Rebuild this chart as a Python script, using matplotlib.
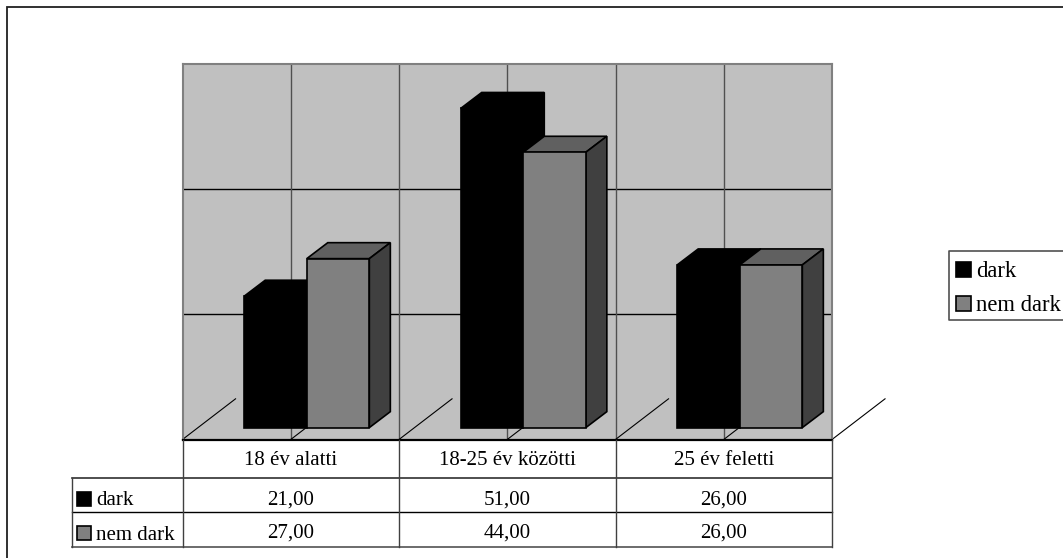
import matplotlib
matplotlib.use("Agg")
import matplotlib.pyplot as plt
from matplotlib.patches import Polygon, Rectangle

W, H = 1063, 558

categories = ["18 év alatti", "18-25 év közötti", "25 év feletti"]
series_names = ["dark", "nem dark"]
dark = [21, 51, 26]
nem_dark = [27, 44, 26]
table_rows = [
    ["21,00", "51,00", "26,00"],
    ["27,00", "44,00", "26,00"],
]
grid_values = [20, 40]
value_max = 60

FRONT = ["#000000", "#808080"]
TOP = ["#000000", "#606060"]
SIDE = ["#000000", "#404040"]
WALL = "#C0C0C0"
SERIF = "Liberation Serif"

# plot wall position, in pixels
X0, X1, Y_TOP, Y_BASE = 182.5, 832, 64, 439.5
BAR_W = 0.289      # category units
BAR_OFF = 0.285
DX = 0.097         # 3d depth of a bar
DY = 2.55
BASE = 1.9         # bars stand in front of the wall
FLOOR_DX = 0.245
FLOOR_DY = 6.5

fig = plt.figure(figsize=(W / 100, H / 100), dpi=100, facecolor="white")

# overlay in pixel coords, for frame, table and legend
px = fig.add_axes([0, 0, 1, 1], zorder=3)
px.set_xlim(0, W)
px.set_ylim(H, 0)
px.axis("off")
px.patch.set_alpha(0)

ax = fig.add_axes([X0 / W, 1 - Y_BASE / H, (X1 - X0) / W, (Y_BASE - Y_TOP) / H], zorder=2)
ax.set_xlim(0, len(categories))
ax.set_ylim(0, value_max)
ax.set_facecolor(WALL)
ax.set_xticks([])
ax.set_yticks([])
for s in ax.spines.values():
    s.set_color("#808080")
    s.set_linewidth(1.5)
ax.spines["bottom"].set_visible(False)

# wall grid
for v in grid_values:
    ax.axhline(v, color="#000000", lw=1, zorder=1)
for i in range(1, 2 * len(categories)):
    ax.axvline(i / 2, color="#505050", lw=1, zorder=1)

# floor diagonals
for i in range(2 * len(categories) + 1):
    ax.plot([i / 2, i / 2 + FLOOR_DX], [0, FLOOR_DY], color="#000000", lw=0.8,
            zorder=1.5, clip_on=False)

# bars, back series first, right side faces and tops from the values
for s, vals in enumerate([dark, nem_dark]):
    z = 3 + s
    for i, v in enumerate(vals):
        left = i + BAR_OFF + s * BAR_W
        right = left + BAR_W
        top = BASE + v
        ax.bar(left, v, BAR_W, bottom=BASE, align="edge", color=FRONT[s],
               edgecolor="#000000", lw=1.2, zorder=z + 0.1)
        ax.add_patch(Polygon([(left, top), (left + DX, top + DY), (right + DX, top + DY), (right, top)],
                             facecolor=TOP[s], edgecolor="#000000", lw=1.2, zorder=z))
        ax.add_patch(Polygon([(right, BASE), (right + DX, BASE + DY), (right + DX, top + DY), (right, top)],
                             facecolor=SIDE[s], edgecolor="#000000", lw=1.2, zorder=z))

# outer frame, runs off the picture right and below
px.plot([7, 7, W], [H, 7, 7], color="#202020", lw=1.3, solid_joinstyle="miter")

# data table
col_x = [X0 + i * (X1 - X0) / len(categories) for i in range(len(categories) + 1)]
row_y = [439.5, 477.5, 512, 546.5]
text_base = [504.5, 538]
label_base = [505, 540.5]
swatch_y = [498.5, 533]
TABLE_L = 71.5
px.plot([X0, X1], [row_y[0], row_y[0]], color="#000000", lw=1.6)
px.plot([TABLE_L, X1], [row_y[1], row_y[1]], color="#303030", lw=1.2)
px.plot([TABLE_L, X1], [row_y[2], row_y[2]], color="#000000", lw=1)
px.plot([TABLE_L, X1], [row_y[3], row_y[3]], color="#606060", lw=1.3)
px.plot([TABLE_L, TABLE_L], [row_y[1], row_y[3]], color="#404040", lw=1)
for x in col_x:
    px.plot([x, x], [row_y[0], row_y[3]], color="#404040", lw=1)

for i, name in enumerate(categories):
    px.text((col_x[i] + col_x[i + 1]) / 2, 465, name, family=SERIF, fontsize=15,
            ha="center", va="baseline", color="black")
for r, row in enumerate(table_rows):
    for i, val in enumerate(row):
        px.text((col_x[i] + col_x[i + 1]) / 2, text_base[r], val, family=SERIF, fontsize=15,
                ha="center", va="baseline", color="black")
    px.add_patch(Rectangle((77, swatch_y[r] - 7), 13.5, 14, facecolor=FRONT[r], edgecolor="#000000", lw=1.2))
    px.text(96, label_base[r], series_names[r], family=SERIF, fontsize=15, ha="left", va="baseline", color="black")

# legend, cut by the right edge
px.plot([W, 949, 949, W], [250.5, 250.5, 320, 320], color="#505050", lw=1.2)
legend_swatch_y = [269, 303.5]
legend_base = [277, 311]
for r, name in enumerate(series_names):
    px.add_patch(Rectangle((955.5, legend_swatch_y[r] - 7.5), 15, 15, facecolor=FRONT[r], edgecolor="#000000", lw=1.2))
    px.text(976, legend_base[r], name, family=SERIF, fontsize=16.3, ha="left", va="baseline", color="black")

fig.savefig("out.png", dpi=100, facecolor="white")
